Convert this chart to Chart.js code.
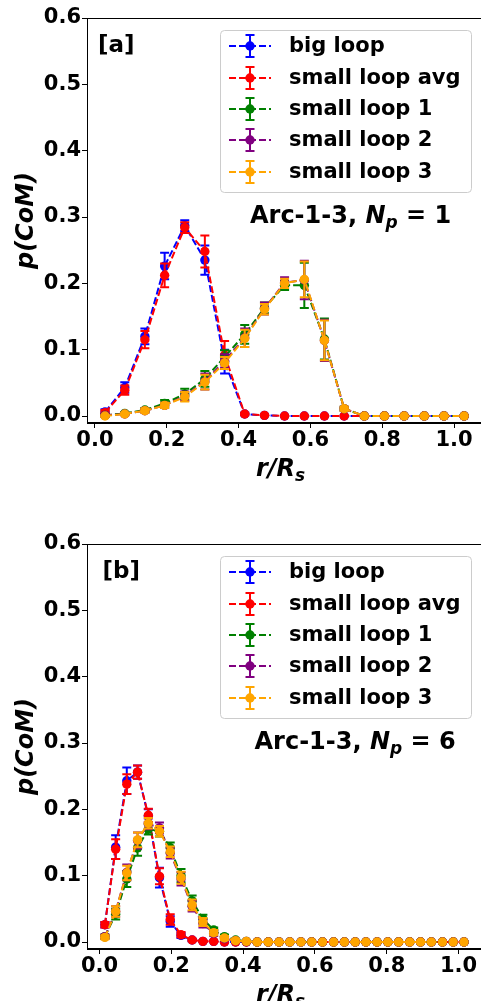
<!DOCTYPE html>
<html><head><meta charset="utf-8">
<script src="https://cdn.jsdelivr.net/npm/chart.js@4.4.0/dist/chart.umd.min.js"></script>
<style>
html,body{margin:0;padding:0;overflow:hidden;background:#fff;width:481px;height:1001px;}
.wrap{position:absolute;left:0;width:490px;}
</style></head><body>
<div class="wrap" style="top:0;height:500px"><canvas id="c1"></canvas></div>
<div class="wrap" style="top:526px;height:475px"><canvas id="c2"></canvas></div>
<script>
// ---------- DATA ----------
const seriesLabels = ['big loop','small loop avg','small loop 1','small loop 2','small loop 3'];
const xTickValues = [0.0,0.2,0.4,0.6,0.8,1.0];
const yTickValues = [0.0,0.1,0.2,0.3,0.4,0.5,0.6];

// Panel [a]: N_p = 1
const aX = [0.028,0.083,0.139,0.194,0.250,0.306,0.361,0.417,0.472,0.528,0.583,0.639,0.694,0.750,0.806,0.861,0.917,0.972,1.028];
const aBig      = [0.006,0.043,0.120,0.226,0.287,0.235,0.082,0.003,0.001,0.000,0.000,0.000,0.000,0.000,0.000,0.000,0.000,0.000,0.000];
const aBigErr   = [0.004,0.008,0.012,0.020,0.008,0.022,0.018,0.002,0.001,0,0,0,0,0,0,0,0,0,0];
const aAvg      = [0.005,0.039,0.115,0.212,0.284,0.248,0.092,0.003,0.001,0.000,0.000,0.000,0.000,0.000,0.000,0.000,0.000,0.000,0.000];
const aAvgErr   = [0.004,0.007,0.013,0.018,0.008,0.024,0.021,0.002,0.001,0,0,0,0,0,0,0,0,0,0];
const aS1       = [0.001,0.004,0.009,0.019,0.033,0.056,0.089,0.123,0.163,0.197,0.197,0.116,0.011,0.000,0.000,0.000,0.000,0.000,0.000];
const aS1Err    = [0.002,0.002,0.003,0.005,0.008,0.012,0.010,0.014,0.008,0.007,0.034,0.031,0.003,0,0,0,0,0,0];
const aS2       = [0.001,0.003,0.008,0.016,0.030,0.052,0.083,0.118,0.162,0.201,0.205,0.114,0.011,0.000,0.000,0.000,0.000,0.000,0.000];
const aS2Err    = [0.002,0.002,0.003,0.004,0.007,0.012,0.010,0.014,0.009,0.008,0.029,0.031,0.003,0,0,0,0,0,0];
const aS3       = [0.000,0.003,0.008,0.016,0.029,0.051,0.080,0.117,0.161,0.200,0.206,0.114,0.011,0.000,0.000,0.000,0.000,0.000,0.000];
const aS3Err    = [0.001,0.002,0.003,0.004,0.007,0.011,0.009,0.013,0.008,0.007,0.027,0.030,0.003,0,0,0,0,0,0];

// Panel [b]: N_p = 6
const bX = [0.015,0.045,0.076,0.106,0.136,0.167,0.197,0.227,0.258,0.288,0.318,0.348,0.379,0.409,0.439,0.470,0.500,0.530,0.561,0.591,0.621,0.652,0.682,0.712,0.742,0.773,0.803,0.833,0.864,0.894,0.924,0.955,0.985,1.015];
const bBig    = [0.026,0.143,0.243,0.256,0.190,0.097,0.031,0.010,0.003,0.001,0.001,0,0,0,0,0,0,0,0,0,0,0,0,0,0,0,0,0,0,0,0,0,0,0];
const bBigErr = [0.004,0.018,0.020,0.010,0.010,0.015,0.008,0.004,0.002,0.001,0,0,0,0,0,0,0,0,0,0,0,0,0,0,0,0,0,0,0,0,0,0,0,0];
const bAvg    = [0.026,0.140,0.238,0.256,0.191,0.099,0.034,0.011,0.003,0.001,0.001,0,0,0,0,0,0,0,0,0,0,0,0,0,0,0,0,0,0,0,0,0,0,0];
const bAvgErr = [0.004,0.015,0.015,0.010,0.010,0.012,0.008,0.004,0.002,0.001,0,0,0,0,0,0,0,0,0,0,0,0,0,0,0,0,0,0,0,0,0,0,0,0];
const bS1     = [0.008,0.042,0.095,0.142,0.170,0.167,0.142,0.100,0.062,0.035,0.018,0.008,0.003,0.001,0,0,0,0,0,0,0,0,0,0,0,0,0,0,0,0,0,0,0,0];
const bS1Err  = [0.003,0.008,0.012,0.012,0.008,0.008,0.008,0.010,0.008,0.006,0.004,0.003,0.002,0.001,0,0,0,0,0,0,0,0,0,0,0,0,0,0,0,0,0,0,0,0];
const bS2     = [0.008,0.046,0.105,0.153,0.178,0.172,0.134,0.095,0.054,0.028,0.013,0.005,0.002,0.001,0,0,0,0,0,0,0,0,0,0,0,0,0,0,0,0,0,0,0,0];
const bS2Err  = [0.003,0.008,0.012,0.012,0.008,0.008,0.008,0.010,0.008,0.006,0.004,0.003,0.002,0.001,0,0,0,0,0,0,0,0,0,0,0,0,0,0,0,0,0,0,0,0];
const bS3     = [0.007,0.046,0.104,0.154,0.179,0.167,0.136,0.097,0.056,0.030,0.014,0.006,0.002,0.001,0,0,0,0,0,0,0,0,0,0,0,0,0,0,0,0,0,0,0,0];
const bS3Err  = [0.003,0.008,0.011,0.011,0.008,0.008,0.008,0.009,0.008,0.006,0.004,0.003,0.002,0.001,0,0,0,0,0,0,0,0,0,0,0,0,0,0,0,0,0,0,0,0];

// ---------- STYLE ----------
const colors = ['#0000ff','#ff0000','#008000','#800080','#ffa500'];
const FONT = "'DejaVu Sans', 'Liberation Sans', sans-serif";

function mkSet(i, xs, ys, errs){
  return {
    label: seriesLabels[i], borderColor: colors[i], backgroundColor: colors[i],
    pointBackgroundColor: colors[i], pointBorderColor: colors[i], pointBorderWidth: 0,
    pointRadius: 4.7, borderWidth: 2, borderDash: [7,3], tension: 0,
    data: xs.map((x,k)=>({x:x, y:ys[k]})), errors: errs, order: 4 - i
  };
}

const errorBarPlugin = {
  id: 'errbars',
  beforeDatasetDraw(chart, args){
    const ds = chart.data.datasets[args.index];
    if(!ds.errors) return;
    const ctx = chart.ctx, xs = chart.scales.x, ys = chart.scales.y, a = chart.chartArea;
    ctx.save();
    ctx.beginPath(); ctx.rect(a.left, a.top, a.right-a.left, a.bottom-a.top); ctx.clip();
    ctx.strokeStyle = ds.borderColor; ctx.lineWidth = 2; ctx.setLineDash([]);
    ds.data.forEach((p,k)=>{
      const e = ds.errors[k]; if(!e) return;
      const px = xs.getPixelForValue(p.x);
      const y1 = ys.getPixelForValue(p.y - e), y2 = ys.getPixelForValue(p.y + e);
      ctx.beginPath();
      ctx.moveTo(px, y1); ctx.lineTo(px, y2);
      ctx.moveTo(px-4.5, y1); ctx.lineTo(px+4.5, y1);
      ctx.moveTo(px-4.5, y2); ctx.lineTo(px+4.5, y2);
      ctx.stroke();
    });
    ctx.restore();
  }
};

function drawMixed(ctx, parts, x, y, align){
  // parts: [text, fontSpec, dy]
  let w = 0;
  parts.forEach(p=>{ ctx.font = p[1]; w += ctx.measureText(p[0]).width; });
  let cx = align === 'center' ? x - w/2 : x;
  parts.forEach(p=>{ ctx.font = p[1]; ctx.fillText(p[0], cx, y + (p[2]||0)); cx += ctx.measureText(p[0]).width; });
  return w;
}

const annotPlugin = {
  id: 'annot',
  afterDraw(chart){
    const o = chart.options.plugins.annot;
    const ctx = chart.ctx, a = chart.chartArea, xs = chart.scales.x;
    ctx.save();
    // frame (top and right spines)
    ctx.strokeStyle = '#000'; ctx.lineWidth = 1; ctx.setLineDash([]);
    ctx.strokeRect(a.left+0.5, a.top+0.5, a.right-a.left-1, a.bottom-a.top-1);
    ctx.fillStyle = '#000'; ctx.textBaseline = 'alphabetic'; ctx.textAlign = 'left';
    const x0 = xs.getPixelForValue(0);
    // panel tag
    ctx.font = "bold 23px " + FONT;
    ctx.fillText(o.tag, x0 + 3, a.top + 34);
    // annotation text
    const B = "bold 24px " + FONT, BI = "italic bold 24px " + FONT, BIs = "italic bold 17px " + FONT;
    drawMixed(ctx, [['Arc-1-3, ', B], ['N', BI], ['p', BIs, 5], [' = ' + o.np, B]], x0 + 155, a.top + 205, 'left');
    // x label
    drawMixed(ctx, [['r/R', BI], ['s', BIs, 5]], (a.left + a.right)/2 - 4, a.bottom + 53, 'center');
    // y label
    ctx.save();
    ctx.translate(33, (a.top + a.bottom)/2);
    ctx.rotate(-Math.PI/2);
    ctx.font = BI; ctx.textAlign = 'center';
    ctx.fillText('p(CoM)', 0, 0);
    ctx.restore();
    // legend
    const lx = 220, ly = a.top + 12, lw = 251, lh = 162;
    ctx.fillStyle = 'rgba(255,255,255,0.8)'; ctx.strokeStyle = '#cccccc'; ctx.lineWidth = 1;
    ctx.beginPath(); ctx.roundRect(lx+0.5, ly+0.5, lw, lh, 4); ctx.fill(); ctx.stroke();
    const rows = [28, 60, 91, 122, 154];
    seriesLabels.forEach((lab, i)=>{
      const yy = a.top + rows[i];
      const c = colors[i];
      ctx.strokeStyle = c; ctx.lineWidth = 2;
      ctx.setLineDash([7,3]);
      ctx.beginPath(); ctx.moveTo(229, yy); ctx.lineTo(271, yy); ctx.stroke();
      ctx.setLineDash([]);
      ctx.beginPath();
      ctx.moveTo(250, yy-11); ctx.lineTo(250, yy+11);
      ctx.moveTo(245.5, yy-11); ctx.lineTo(254.5, yy-11);
      ctx.moveTo(245.5, yy+11); ctx.lineTo(254.5, yy+11);
      ctx.stroke();
      ctx.fillStyle = c; ctx.beginPath(); ctx.arc(250, yy, 4.7, 0, Math.PI*2); ctx.fill();
      ctx.fillStyle = '#000'; ctx.font = "bold 21px " + FONT; ctx.textBaseline = 'middle';
      ctx.fillText(lab, 289, yy + 1);
      ctx.textBaseline = 'alphabetic';
    });
    ctx.restore();
  }
};

function makeChart(id, xs, sets, xmin, xmax, tag, np){
  const tickFont = {family: FONT, weight: 'bold', size: 21};
  return new Chart(document.getElementById(id), {
    type: 'line',
    data: { datasets: sets.map((s,i)=>mkSet(i, xs, s[0], s[1])) },
    options: {
      responsive: true, maintainAspectRatio: false, animation: false,
      layout: {padding: {left: 0, right: 8, top: 18, bottom: 0}},
      plugins: {legend: {display: false}, tooltip: {enabled: false}, annot: {tag: tag, np: np}},
      scales: {
        x: {
          type: 'linear', min: xmin, max: xmax,
          afterBuildTicks: s => { s.ticks = xTickValues.map(v=>({value:v})); },
          afterFit: s => { s.height = s.chart.height - 423; },
          grid: {drawOnChartArea: false, drawTicks: true, tickLength: 5, tickColor: '#000', tickWidth: 1},
          border: {display: true, color: '#000', width: 1},
          ticks: {font: tickFont, color: '#000', padding: 0, maxRotation: 0, autoSkip: false, callback: v => v.toFixed(1)}
        },
        y: {
          type: 'linear', min: -0.01055, max: 0.6,
          afterBuildTicks: s => { s.ticks = yTickValues.map(v=>({value:v})); },
          afterFit: s => { s.width = 87; },
          grid: {drawOnChartArea: false, drawTicks: true, tickLength: 5, tickColor: '#000', tickWidth: 1},
          border: {display: true, color: '#000', width: 1},
          ticks: {font: tickFont, color: '#000', padding: 1, callback: v => v.toFixed(1)}
        }
      }
    },
    plugins: [errorBarPlugin, annotPlugin]
  });
}

makeChart('c1', aX, [[aBig,aBigErr],[aAvg,aAvgErr],[aS1,aS1Err],[aS2,aS2Err],[aS3,aS3Err]], -0.0222, 1.0778, '[a]', '1');
makeChart('c2', bX, [[bBig,bBigErr],[bAvg,bAvgErr],[bS1,bS1Err],[bS2,bS2Err],[bS3,bS3Err]], -0.0348, 1.0652, '[b]', '6');
</script>
</body></html>
